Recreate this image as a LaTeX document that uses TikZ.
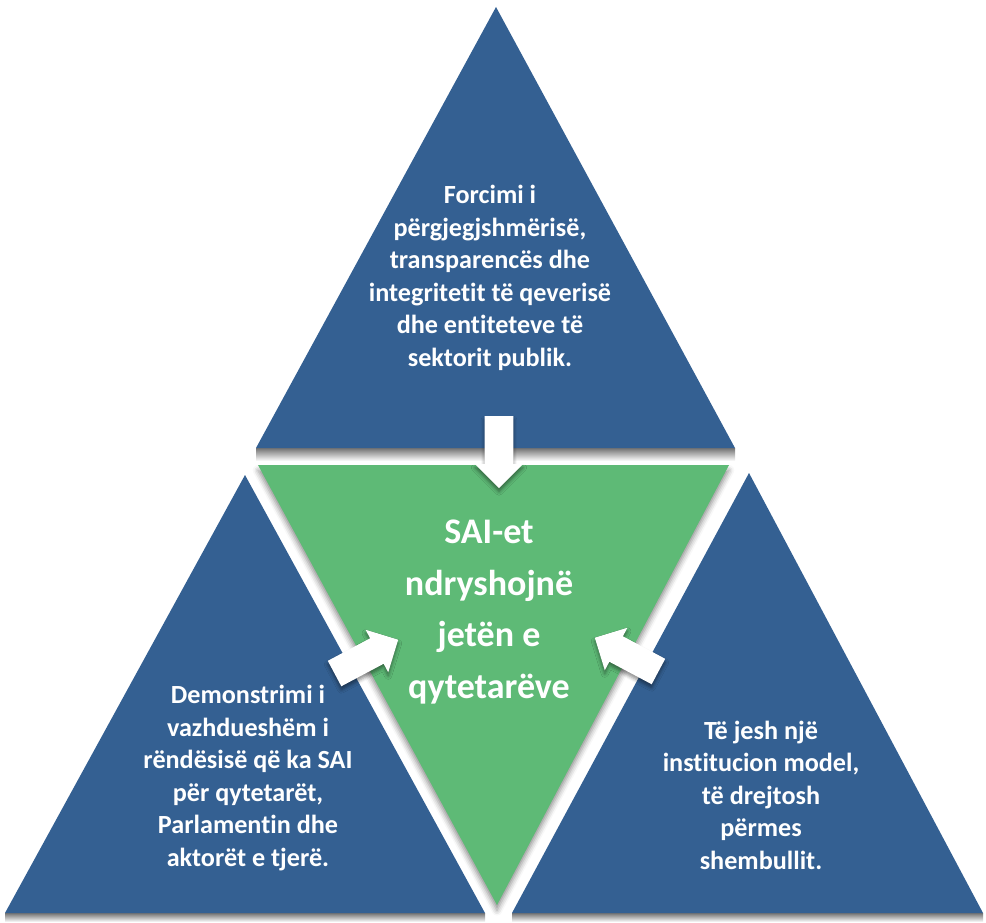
\documentclass[tikz,border=0pt]{standalone}
\usepackage{fontspec}
\setmainfont[Ligatures=NoCommon]{Carlito}
\usetikzlibrary{shapes.arrows,shadows.blur}
\definecolor{triblue}{RGB}{52,96,146}
\definecolor{trigreen}{RGB}{94,186,118}

\begin{document}
\begin{tikzpicture}[x=0.02cm, y=-0.02cm,
    tritext/.style={text=white, align=center, font=\bfseries\fontsize{14.9}{18.5}\selectfont},
    blockarrow/.style={single arrow, fill=white, inner xsep=0pt, inner ysep=8pt,
      minimum height=41pt, single arrow head extend=5.5pt,
      blur shadow={shadow xshift=0pt, shadow yshift=-2pt, shadow blur radius=2pt, shadow opacity=45}},
    baseshade/.style={top color=black!55, bottom color=white}]
      \useasboundingbox (0,0) rectangle (986,922);
      % corners
      \coordinate (t1) at (496,7);
      \coordinate (t2) at (256,448);
      \coordinate (t3) at (735,448);
      \coordinate (l1) at (245,475);
      \coordinate (l2) at (5,913);
      \coordinate (l3) at (485,913);
      \coordinate (r1) at (749,473);
      \coordinate (r2) at (512,913);
      \coordinate (r3) at (983,913);
      \coordinate (g1) at (258,465);
      \coordinate (g2) at (729,465);
      \coordinate (g3) at (497,905);
      % shadows under the bases
      \shade[baseshade] (256,448) rectangle (735,461);
      \shade[baseshade] (5,913) rectangle (485,922);
      \shade[baseshade] (512,913) rectangle (983,922);
      \fill[triblue] (t1) -- (t2) -- (t3) -- cycle;
      \fill[triblue] (l1) -- (l2) -- (l3) -- cycle;
      \fill[triblue] (r1) -- (r2) -- (r3) -- cycle;
      \fill[trigreen, blur shadow={shadow xshift=0pt, shadow yshift=-3pt, shadow blur radius=3pt, shadow opacity=45}] (g1) -- (g2) -- (g3) -- cycle;
      % arrows
      \node[blockarrow, rotate=-90] (adown) at (499,445) {};
      \node[blockarrow, rotate=28] (aleft) at (360,660) {};
      \node[blockarrow, rotate=152] (aright) at (633,658) {};
      % texts
      \node[tritext] (ttop) at (490,278) {Forcimi i\\përgjegjshmërisë,\\transparencës dhe\\integritetit të qeverisë\\dhe entiteteve të\\sektorit publik.};
      \node[tritext] (tleft) at (248,778) {Demonstrimi i\\vazhdueshëm i\\rëndësisë që ka SAI\\për qytetarët,\\Parlamentin dhe\\aktorët e tjerë.};
      \node[tritext] (tright) at (761,795) {Të jesh një\\institucion model,\\të drejtosh\\përmes\\shembullit.};
      \node[tritext, font=\bfseries\fontsize{20.5}{29.4}\selectfont] (tmid) at (489,612) {SAI-et\\ndryshojnë\\jetën e\\qytetarëve};
    \end{tikzpicture}
\end{document}
